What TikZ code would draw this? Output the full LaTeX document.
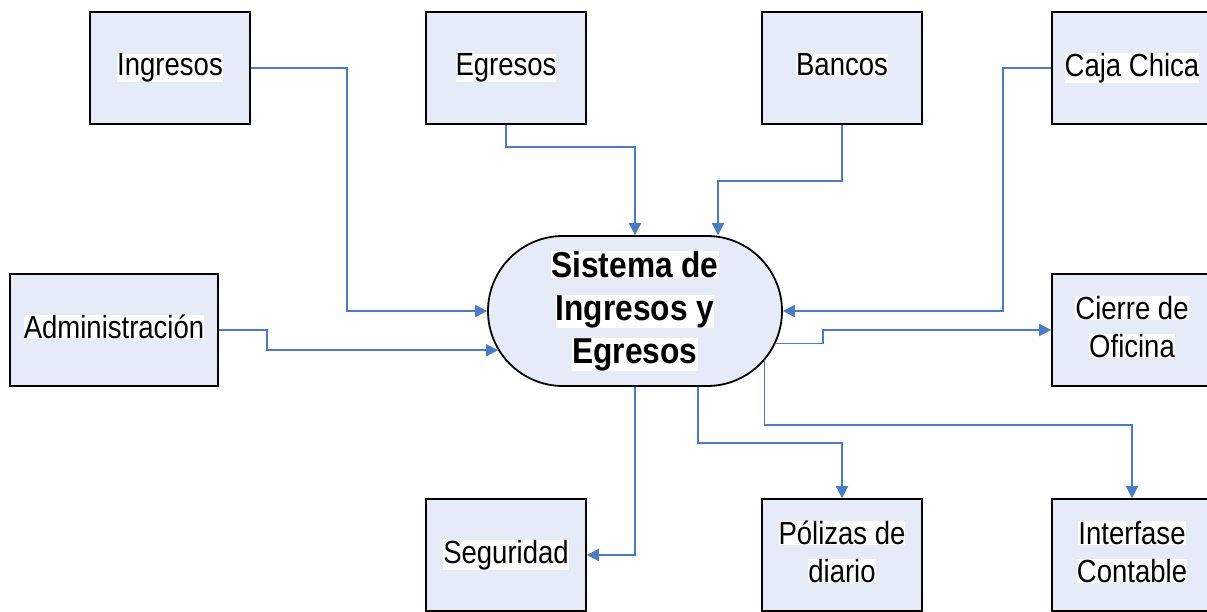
\documentclass[tikz,border=0pt]{standalone}
\usepackage{fontspec}
\setmainfont{Liberation Sans}[FakeStretch=0.86]
\newfontfamily\procfont{Liberation Sans}[FakeStretch=0.88]
\usetikzlibrary{shapes.misc,arrows.meta,calc}
\definecolor{boxfill}{RGB}{230,236,247}
\definecolor{conn}{HTML}{4A7CC6}
\setlength{\fboxsep}{0pt}
\newcommand{\wl}[1]{\colorbox{white}{#1}}
\newcommand{\wls}[1]{\colorbox{white}{#1}\vphantom{Ig}}
\tikzset{
  box/.style={draw=black, line width=1.8pt, fill=boxfill, minimum width=160pt,
    minimum height=112pt, inner sep=0pt, align=center,
    font=\fontsize{32}{38}\selectfont},
  proc/.style={draw=black, line width=1.8pt, fill=boxfill, rounded rectangle,
    minimum width=294pt, minimum height=150pt, inner sep=0pt, align=center,
    font=\procfont\fontsize{36}{43}\selectfont\bfseries},
  arr/.style={draw=conn, line width=1.8pt, -{Triangle[length=12pt,width=12pt]}}
}
\begin{document}
\begin{tikzpicture}[x=1pt,y=-1pt]
\useasboundingbox (0,0) rectangle (1207,612);
\clip (0,0) rectangle (1207,612);
\fill[white] (0,0) rectangle (1207,612);

\node[box] (ing) at (170,68) {\wls{Ingresos}};
\node[box] (egr) at (506,68) {\wls{Egresos}};
\node[box] (ban) at (842,68) {\wls{Bancos}};
\node[box] (caja) at (1132,68) {\wls{Caja Chica}};
\node[box, minimum width=208pt] (adm) at (114,330) {\wls{Administración}};
\node[box] (cie) at (1132,330) {\wl{Cierre de}\\\wls{Oficina}};
\node[box] (seg) at (506,555) {\wls{Seguridad}};
\node[box] (pol) at (842,555) {\wl{Pólizas de}\\\wls{diario}};
\node[box] (int) at (1132,555) {\wl{Interfase}\\\wls{Contable}};
\node[proc] (c) at (635,311) {\wl{Sistema de}\\\wl{Ingresos y}\\\wl{Egresos}};

\draw[arr] (ing.east) -- ++(96,0) |- (c.west);
\draw[arr] (adm.east) -- ++(48,0) |- (c.196);
\draw[arr] (egr.south) -- ++(0,22) -| (c.north);
\draw[arr] (ban.south) -- ++(0,56) -| ($(c.north)+(83,0)$);
\draw[arr] (caja.west) -- ++(-48,0) |- (c.east);
\draw[arr] (c.347) -| ($(cie.west)+(-228,0)$) -- (cie.west);
\draw[arr] (c.south) |- (seg.east);
\draw[arr] ($(c.south)+(63,0)$) -- ++(0,56) -| (pol.north);
\draw[arr] (c.339) -- ++(0,64) -| (int.north);
\end{tikzpicture}
\end{document}
